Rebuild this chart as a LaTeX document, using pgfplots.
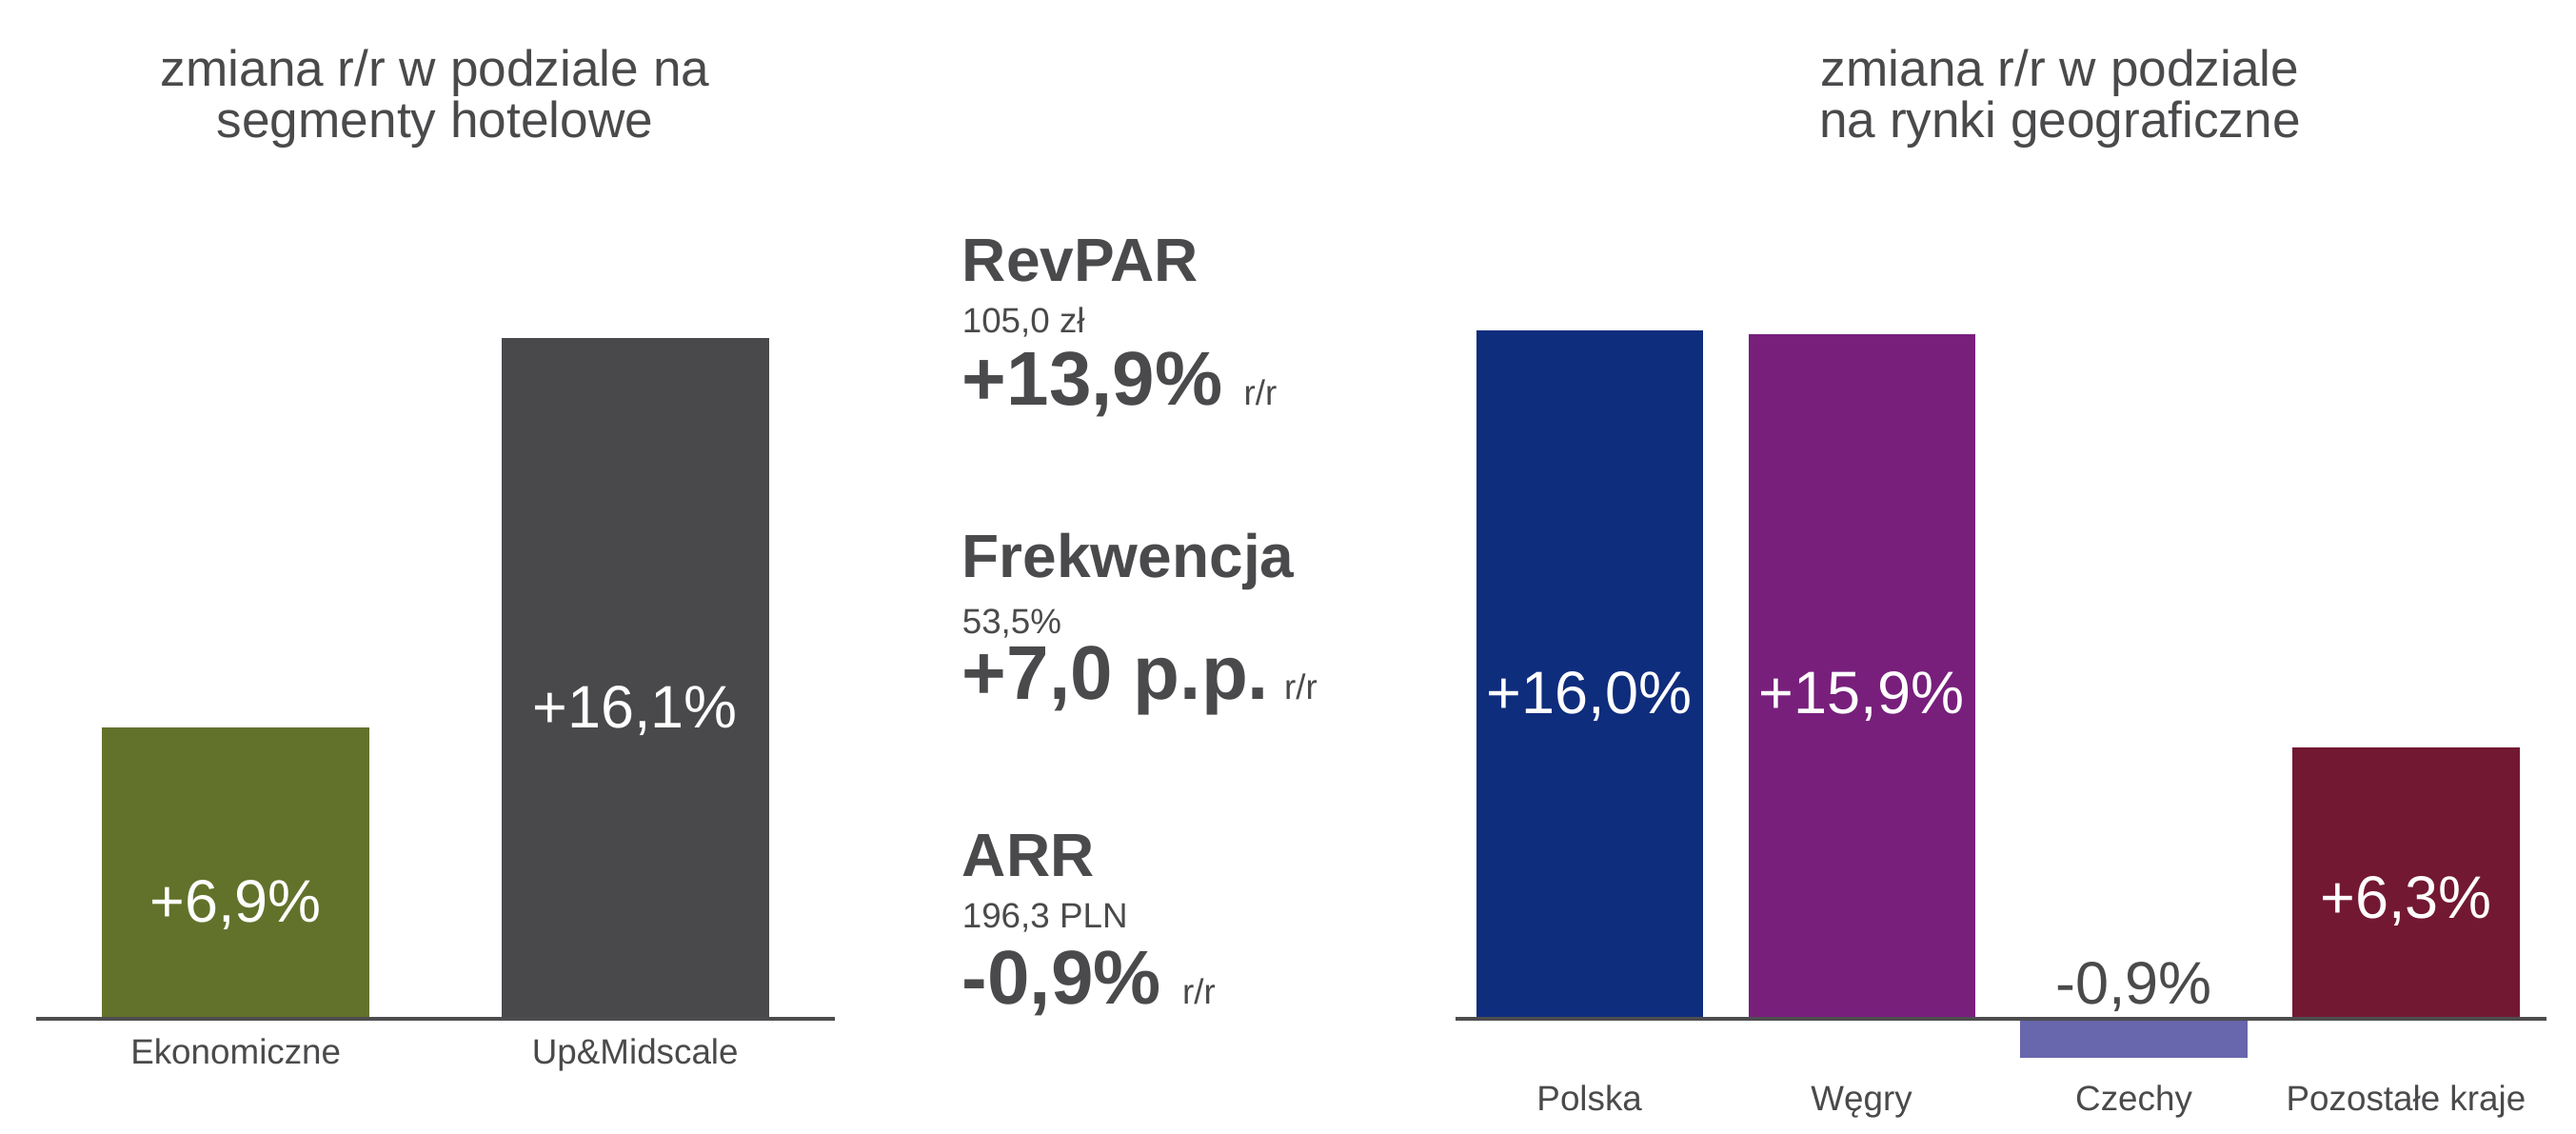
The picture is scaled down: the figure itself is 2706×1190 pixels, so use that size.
\documentclass[border=0pt]{standalone}
\usepackage{fontspec}
\setmainfont{Liberation Sans}
\usepackage{pgfplots}
\pgfplotsset{compat=1.18}
\definecolor{txt}{HTML}{4A4A4C}
\definecolor{axgrey}{HTML}{4D4D4F}
\definecolor{cEko}{HTML}{62722B}
\definecolor{cUp}{HTML}{49494B}
\definecolor{cPl}{HTML}{0F2D7D}
\definecolor{cHu}{HTML}{781F7C}
\definecolor{cCz}{HTML}{6866AC}
\definecolor{cOth}{HTML}{731832}
\pgfplotsset{barset/.style={scale only axis, ybar, bar shift=0pt, ytick=\empty,
  axis line style={draw=none}, major tick length=0pt, clip=false,
  xticklabel style={font=\fontsize{9.2}{11}\selectfont, text=txt, anchor=base},
  every axis plot/.append style={draw=none}}}
\newcommand{\val}[1]{\fontsize{15.75}{18}\selectfont #1}
\frenchspacing
\begin{document}
\begin{tikzpicture}[x=0.25pt,y=0.25pt]
\useasboundingbox (0,0) rectangle (2706,1190);
% titles
\node[anchor=base, text=txt, font=\fontsize{13.3}{16}\selectfont] at (457,1099) {zmiana r/r w podziale na};
\node[anchor=base, text=txt, font=\fontsize{13.3}{16}\selectfont] at (457,1045) {segmenty hotelowe};
\node[anchor=base, text=txt, font=\fontsize{13.3}{16}\selectfont] at (2164,1099) {zmiana r/r w podziale};
\node[anchor=base, text=txt, font=\fontsize{13.3}{16}\selectfont] at (2164,1045) {na rynki geograficzne};

% left: hotel segments
\begin{axis}[barset, at={(9.5pt,30pt)}, anchor=south west, width=209.75pt, height=188.7pt,
  xmin=-0.5, xmax=1.5, ymin=0, ymax=17, bar width=0.671,
  xtick={0,1}, xticklabels={Ekonomiczne, Up\&Midscale},
  xticklabel style={yshift=-11.75pt}]
\addplot[fill=cEko] coordinates {(0,6.9)};
\addplot[fill=cUp] coordinates {(1,16.1)};
\draw[line width=1.15pt, axgrey] (axis cs:-0.5,0) -- (axis cs:1.5,0);
\node[anchor=base, text=white] at (axis cs:0,2.29) {\val{+6,9\%}};
\node[anchor=base, text=white] at (axis cs:1,6.88) {\val{+16,1\%}};
\end{axis}

% right: geographic markets
\begin{axis}[barset, at={(382.25pt,18.7pt)}, anchor=south west, width=286.5pt, height=203.4pt,
  xmin=-0.492, xmax=3.516, ymin=-1, ymax=17, bar width=0.833,
  xtick={0,1,2,3}, xticklabels={Polska, Węgry, Czechy, Pozostałe kraje},
  xticklabel style={yshift=-12.7pt}]
\addplot[fill=cPl] coordinates {(0,16.0)};
\addplot[fill=cHu] coordinates {(1,15.9)};
\addplot[fill=cCz] coordinates {(2,-0.9)};
\addplot[fill=cOth] coordinates {(3,6.3)};
\draw[line width=1.15pt, axgrey] (axis cs:-0.492,0) -- (axis cs:3.516,0);
\node[anchor=base, text=white] at (axis cs:0,7.09) {\val{+16,0\%}};
\node[anchor=base, text=white] at (axis cs:1,7.09) {\val{+15,9\%}};
\node[anchor=base, text=txt] at (axis cs:2,0.34) {\val{-0,9\%}};
\node[anchor=base, text=white] at (axis cs:3,2.33) {\val{+6,3\%}};
\end{axis}

% middle KPI block
\begin{scope}[every node/.style={anchor=base west, text=txt, inner sep=0pt}]
\node[font=\bfseries\fontsize{16}{19}\selectfont] at (1010,894) {RevPAR};
\node[font=\fontsize{9.2}{11}\selectfont] at (1010,840) {105,0 zł};
\node[font=\bfseries\fontsize{20}{24}\selectfont] at (1010,764) {+13,9\% {\mdseries\fontsize{9.2}{11}\selectfont r/r}};
\node[font=\bfseries\fontsize{16}{19}\selectfont] at (1010,584) {Frekwencja};
\node[font=\fontsize{9.2}{11}\selectfont] at (1010,525) {53,5\%};
\node[font=\bfseries\fontsize{20}{24}\selectfont] at (1010,456) {+7,0 p.p.\hspace{4pt}{\mdseries\fontsize{9.2}{11}\selectfont r/r}};
\node[font=\bfseries\fontsize{16}{19}\selectfont] at (1010,270) {ARR};
\node[font=\fontsize{9.2}{11}\selectfont] at (1010,216) {196,3 PLN};
\node[font=\bfseries\fontsize{20}{24}\selectfont] at (1010,136) {-0,9\% {\mdseries\fontsize{9.2}{11}\selectfont r/r}};
\end{scope}
\end{tikzpicture}
\end{document}
